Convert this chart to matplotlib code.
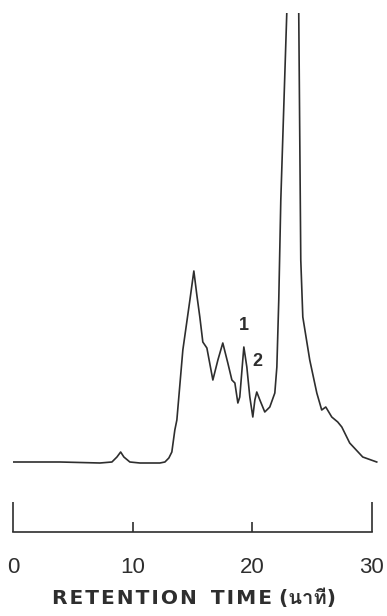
import numpy as np
import matplotlib.pyplot as plt
from matplotlib import font_manager
from matplotlib.ft2font import FT2Font

# find an installed font that has Thai glyphs (for the unit in the label)
thai_family = None
for f in font_manager.fontManager.ttflist:
    try:
        if 0x0E19 in FT2Font(f.fname).get_charmap():
            thai_family = f.name
            break
    except Exception:
        pass
label_fonts = ['DejaVu Sans'] + ([thai_family] if thai_family else [])
digit_fonts = ['Liberation Sans Narrow', 'Liberation Sans']

# retention time (min) and detector response (arbitrary units, baseline = 0)
time = [0.00, 3.93, 7.27, 8.27, 8.69, 9.00, 9.27, 9.77, 10.61, 12.28, 12.70,
        13.03, 13.28, 13.53, 13.70, 14.20, 14.79, 15.12, 15.37, 15.62, 15.87,
        16.21, 16.71, 17.13, 17.54, 17.96, 18.30, 18.55, 18.80, 18.96,
        19.21, 19.30, 19.55, 19.80, 20.05, 20.22, 20.38, 20.64, 21.05, 21.47,
        21.89, 22.06, 22.22, 22.39, 22.89, 23.10, 23.47, 23.84, 23.89, 24.06, 24.23,
        24.81, 25.40, 25.81, 26.15, 26.65, 27.15, 27.49, 28.15, 29.24, 30.41]
response = [0, 0, -1, 0, 5, 10, 5, 0, -1, -1, 0,
            4, 10, 32, 42, 112, 162, 191, 167, 145, 120,
            114, 82, 102, 119, 99, 82, 79, 59, 65,
            102, 115, 95, 65, 45, 62, 70, 62, 50, 55,
            69, 95, 162, 262, 449, 532, 552, 532, 449, 202, 145,
            102, 69, 52, 55, 45, 40, 35, 19, 5, 0]

peak_labels = ['1', '2']
peak_t = [19.30, 20.47]
peak_h = [137, 100]

major_ticks = [0, 30]
minor_ticks = [10, 20]

ink = '#2e2e2e'

fig = plt.figure(figsize=(3.87, 6.16), dpi=100)
ax = fig.add_axes([13/387, (616-532)/616, (379-13)/387, (532-13)/616])

ax.plot(time, response, color=ink, lw=1.2)

for lab, t, h in zip(peak_labels, peak_t, peak_h):
    ax.text(t, h, lab, ha='center', va='center', fontsize=13, fontweight='bold',
            color=ink, family=digit_fonts)

ax.set_xlim(0, 30.6)
ax.set_ylim(-70, 449)

for s in ['left', 'right', 'top']:
    ax.spines[s].set_visible(False)
ax.spines['bottom'].set_bounds(0, 30)
ax.spines['bottom'].set_color(ink)
ax.spines['bottom'].set_linewidth(1.2)
ax.set_yticks([])

ax.set_xticks(major_ticks, [str(v) for v in major_ticks])
ax.set_xticks(minor_ticks, [str(v) for v in minor_ticks], minor=True)
ax.tick_params(axis='x', which='major', direction='in', length=21.6, width=1.2,
               color=ink, pad=18, labelsize=16, labelcolor=ink)
ax.tick_params(axis='x', which='minor', direction='in', length=7.2, width=1.2,
               color=ink, pad=18, labelsize=16, labelcolor=ink)
for lbl in ax.get_xticklabels(which='both'):
    lbl.set_family(digit_fonts)

# letter-spaced axis title, like the original typesetting
title = '\u200a'.join('RETENTION') + '  ' + '\u200a'.join('TIME') + ' (นาที)'
fig.text(194/387, (616-598)/616, title, ha='center', va='center',
         fontsize=14.5, fontweight='bold', color=ink, family=label_fonts)

plt.savefig('out.png', dpi=100)
